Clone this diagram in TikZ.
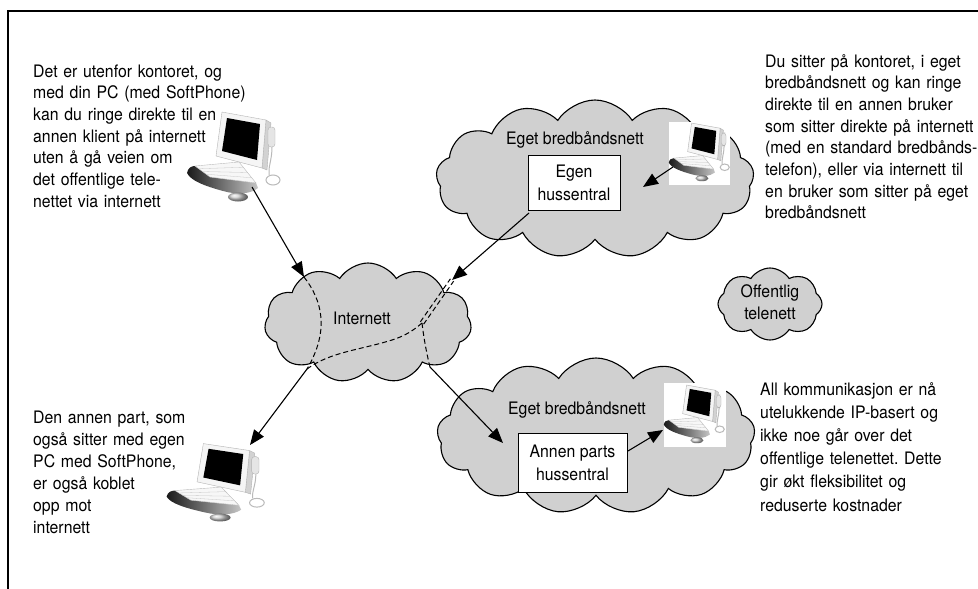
\documentclass[tikz,border=0pt]{standalone}
\usepackage{fontspec}
\setmainfont{TeX Gyre Heros}[FakeStretch=0.92]
\frenchspacing
\usetikzlibrary{shapes.symbols,arrows.meta,calc}

\definecolor{cloudgray}{RGB}{208,208,208}

\tikzset{
  netcloud/.style={cloud, draw=black, line width=1.1pt, fill=cloudgray,
    cloud ignores aspect, inner sep=0pt, cloud puffs=#1, cloud puff arc=115},
  note/.style={text width=#1, align=left, inner sep=0pt, anchor=base west,
    font=\fontsize{17.2}{21.7}\selectfont},
  cloudtext/.style={inner sep=0pt, align=center, font=\fontsize{17.2}{21.7}\selectfont},
  switchbox/.style={draw=black, line width=1pt, fill=white, align=center,
    inner sep=0pt, font=\fontsize{17.2}{23}\selectfont},
  link/.style={line width=1.1pt, -{Triangle[length=15pt,width=12pt]}},
  route/.style={line width=1pt, dash pattern=on 5pt off 3pt},
  pcframe/.style={inner sep=0pt, minimum width=61pt, minimum height=63pt},
  pc/.pic={
    % monitor casing, side and front
    \filldraw[fill=gray!35, draw=gray!60, line width=0.4pt]
      (31,-35) -- (36,-32) -- (32,15) -- (27,13) -- cycle;
    \filldraw[fill=gray!8, draw=gray!60, line width=0.4pt]
      (-13,-43) -- (31,-35) -- (27,13) -- (-19,1) -- cycle;
    % screen
    \fill[black] (-8,-37) -- (25,-31) -- (22,5) -- (-13,-4) -- cycle;
    % handset with its cord
    \filldraw[fill=gray!20, draw=gray!60, line width=0.4pt, rounded corners=3pt]
      (33,-28) rectangle (40,-8);
    \draw[gray!55, line width=1pt] (37,-8) .. controls (37,5) and (33,12) .. (34,20);
    \draw[gray!55, line width=1pt] (38,25) circle[x radius=7, y radius=5];
    % keyboard tray
    \shade[left color=black!90, right color=gray!45]
      (-48,18) .. controls (-47,13) and (-44,11) .. (-40,11)
      -- (-25,22) -- (21,28) -- (23,33)
      .. controls (16,39) and (2,40) .. (-12,36)
      .. controls (-30,31) and (-44,26) .. cycle;
    % keyboard
    \filldraw[fill=gray!6, draw=gray!55, line width=0.4pt]
      (-40,11) -- (4,7) -- (21,28) -- (-25,22) -- cycle;
    \foreach \t in {0.25,0.5,0.75}
      \draw[gray!45, line width=0.3pt] ($(-40,11)!\t!(-25,22)$) -- ($(4,7)!\t!(21,28)$);
    % mouse
    \shade[ball color=gray!40] (3,42) ellipse[x radius=10, y radius=4.5];
  }
}

\begin{document}
\begin{tikzpicture}[x=1pt,y=-1pt]
\useasboundingbox (0,0) rectangle (978,589);

% frame
\draw[line width=1.2pt] (978,11) -- (8,11) -- (8,589);

% networks
\node[netcloud=13, minimum width=318pt, minimum height=158pt] (ownnet) at (595,179) {};
\node[netcloud=11, minimum width=207pt, minimum height=120pt] (inet) at (368,323) {};
\node[netcloud=13, minimum width=318pt, minimum height=156pt] (othernet) at (596,436) {};
\node[netcloud=8, minimum width=104pt, minimum height=72pt] (pstn) at (770,304) {};

\node[cloudtext] (ownnetlbl) at (575,140) {Eget bredbåndsnett};
\node[cloudtext] (inetlbl) at (362,318) {Internett};
\node[cloudtext] (othernetlbl) at (577,410) {Eget bredbåndsnett};
\node[cloudtext] (pstnlbl) at (770,302) {Offentlig\\telenett};

% switchboards
\node[switchbox, minimum width=92pt, minimum height=55pt] (egen) at (574,182.5) {Egen\\hussentral};
\node[switchbox, minimum width=109pt, minimum height=59pt] (annen) at (572.5,462.5) {Annen parts\\hussentral};

% computers
\node[pcframe] (pc1) at (235,155) {};
\pic at (235,155) {pc};
\node[pcframe] (pc3) at (217,481) {};
\pic[xscale=1.05, yscale=0.87] at (217,481) {pc};
\node[pcframe, fill=white] (pc2) at (699.5,153.5) {};
\pic[scale=0.65] at (700,151) {pc};
\node[pcframe, fill=white, minimum width=62pt, minimum height=64pt] (pc4) at (695,415) {};
\pic[scale=0.65] at (695,413) {pc};

% connection points
\coordinate (pc1out) at (252,187);
\coordinate (inetin1) at (304,277);
\coordinate (egenout) at (529,213);
\coordinate (inetin2) at (452,280);
\coordinate (inetout1) at (307,369);
\coordinate (pc3in) at (250,445);
\coordinate (inetout2) at (430,367);
\coordinate (annenin) at (503,443);
\coordinate (pc2out) at (673,167);
\coordinate (egenin) at (643,187);
\coordinate (annenout) at (628,451);
\coordinate (pc4in) at (663,430);
\coordinate (junction) at (422,323);

% routes through the internet
\draw[route] (inetin1) .. controls (322,300) and (330,330) .. (inetout1);
\draw[route] (inetout1) .. controls (330,352) and (360,350) .. (392,340)
  .. controls (405,336) and (414,330) .. (junction);
\draw[route] ($(junction)+(-1.6,-1.2)$) -- ($(inetin2)+(-1.6,-1.2)$);
\draw[route] ($(junction)+(1.6,1.2)$) -- ($(inetin2)+(1.6,1.2)$);
\draw[route] (junction) .. controls (424,340) and (427,355) .. (inetout2);

% links
\draw[link] (pc1out) -- (inetin1);
\draw[link] (egenout) -- (inetin2);
\draw[link] (inetout1) -- (pc3in);
\draw[link] (inetout2) -- (annenin);
\draw[link] (pc2out) -- (egenin);
\draw[link] (annenout) -- (pc4in);

% explanations
\node[note=260pt] (txt1) at (33,77) {Det er utenfor kontoret, og\\med din PC (med SoftPhone)\\kan du ringe direkte til en\\annen klient på internett\\uten å gå veien om\\det offentlige tele-\\nettet via internett};
\node[note=260pt] (txt2) at (765,67) {Du sitter på kontoret, i eget\\bredbåndsnett og kan ringe\\direkte til en annen bruker\\som sitter direkte på internett\\(med en standard bredbånds-\\telefon), eller via internett til\\en bruker som sitter på eget\\bredbåndsnett};
\node[note=200pt, font=\fontsize{17.2}{22}\selectfont] (txt3) at (33,423) {Den annen part, som\\også sitter med egen\\PC med SoftPhone,\\er også koblet\\opp mot\\internett};
\node[note=250pt, font=\fontsize{17.2}{23.2}\selectfont] (txt4) at (760,395) {All kommunikasjon er nå\\utelukkende IP-basert og\\ikke noe går over det\\offentlige telenettet. Dette\\gir økt fleksibilitet og\\reduserte kostnader};
\end{tikzpicture}
\end{document}
